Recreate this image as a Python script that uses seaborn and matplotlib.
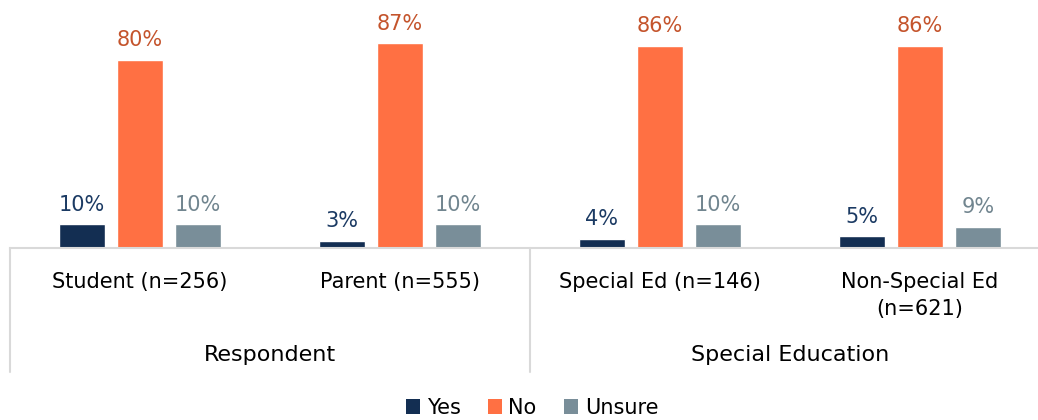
import matplotlib
matplotlib.use("Agg")
import matplotlib.pyplot as plt
import seaborn as sns
import pandas as pd
from matplotlib.patches import Patch

categories = ["Student (n=256)", "Parent (n=555)", "Special Ed (n=146)", "Non-Special Ed\n(n=621)"]
groups = ["Respondent", "Special Education"]
responses = ["Yes", "No", "Unsure"]
yes_vals = [10, 3, 4, 5]
no_vals = [80, 87, 86, 86]
unsure_vals = [10, 10, 10, 9]

bar_colors = ["#132E52", "#FF7043", "#798E99"]
label_colors = ["#1B3A63", "#C4542C", "#71858F"]

rows = []
for resp, vals in zip(responses, [yes_vals, no_vals, unsure_vals]):
    for c, v in zip(categories, vals):
        rows.append({"category": c, "response": resp, "value": v})
df = pd.DataFrame(rows)

sns.set_style("white")
plt.rcParams["font.family"] = ["DejaVu Sans"]

fig = plt.figure(figsize=(10.38, 4.20), dpi=100)
W, H = 1038, 420
ax = fig.add_axes([10 / W, (H - 248) / H, 1040 / W, 248 / H])

sns.barplot(data=df, x="category", y="value", hue="response", hue_order=responses,
            palette=bar_colors, width=0.67, gap=0.22, ax=ax, legend=False,
            saturation=1, errorbar=None)

for cont, col in zip(ax.containers, label_colors):
    ax.bar_label(cont, labels=[f"{int(v)}%" for v in cont.datavalues],
                 padding=7, color=col, fontsize=15, fontweight="medium")

ax.set_xlim(-0.5, 3.5)
ax.set_ylim(0, 105.5)
ax.set_xlabel("")
ax.set_ylabel("")
ax.set_yticks([])
ax.tick_params(axis="x", length=0, pad=17, labelsize=15, labelcolor="#000000")
for lbl in ax.get_xticklabels():
    lbl.set_linespacing(1.45)
for s in ["top", "left", "right"]:
    ax.spines[s].set_visible(False)
ax.spines["bottom"].set_color("#D9D9D9")
ax.spines["bottom"].set_linewidth(1.5)

# separators
for x in [-0.5, 1.5, 3.5]:
    ax.plot([x, x], [0, -0.5], transform=ax.get_xaxis_transform(),
            color="#D9D9D9", lw=1.5, clip_on=False)

# group labels
for gx, g in zip([0.5, 2.5], groups):
    ax.annotate(g, xy=(gx, 0), xycoords=ax.get_xaxis_transform(),
                xytext=(0, -107), textcoords="offset pixels",
                ha="center", va="center", fontsize=16, color="#000000")

handles = [Patch(facecolor=c, edgecolor="none") for c in bar_colors]
fig.legend(handles, responses, loc="center", bbox_to_anchor=(532 / W, 1 - 408 / H),
           ncol=3, frameon=False, fontsize=15, handlelength=0.7, handleheight=0.7,
           handletextpad=0.3, columnspacing=1.3, labelcolor="#000000")

fig.savefig("out.png", dpi=100)
